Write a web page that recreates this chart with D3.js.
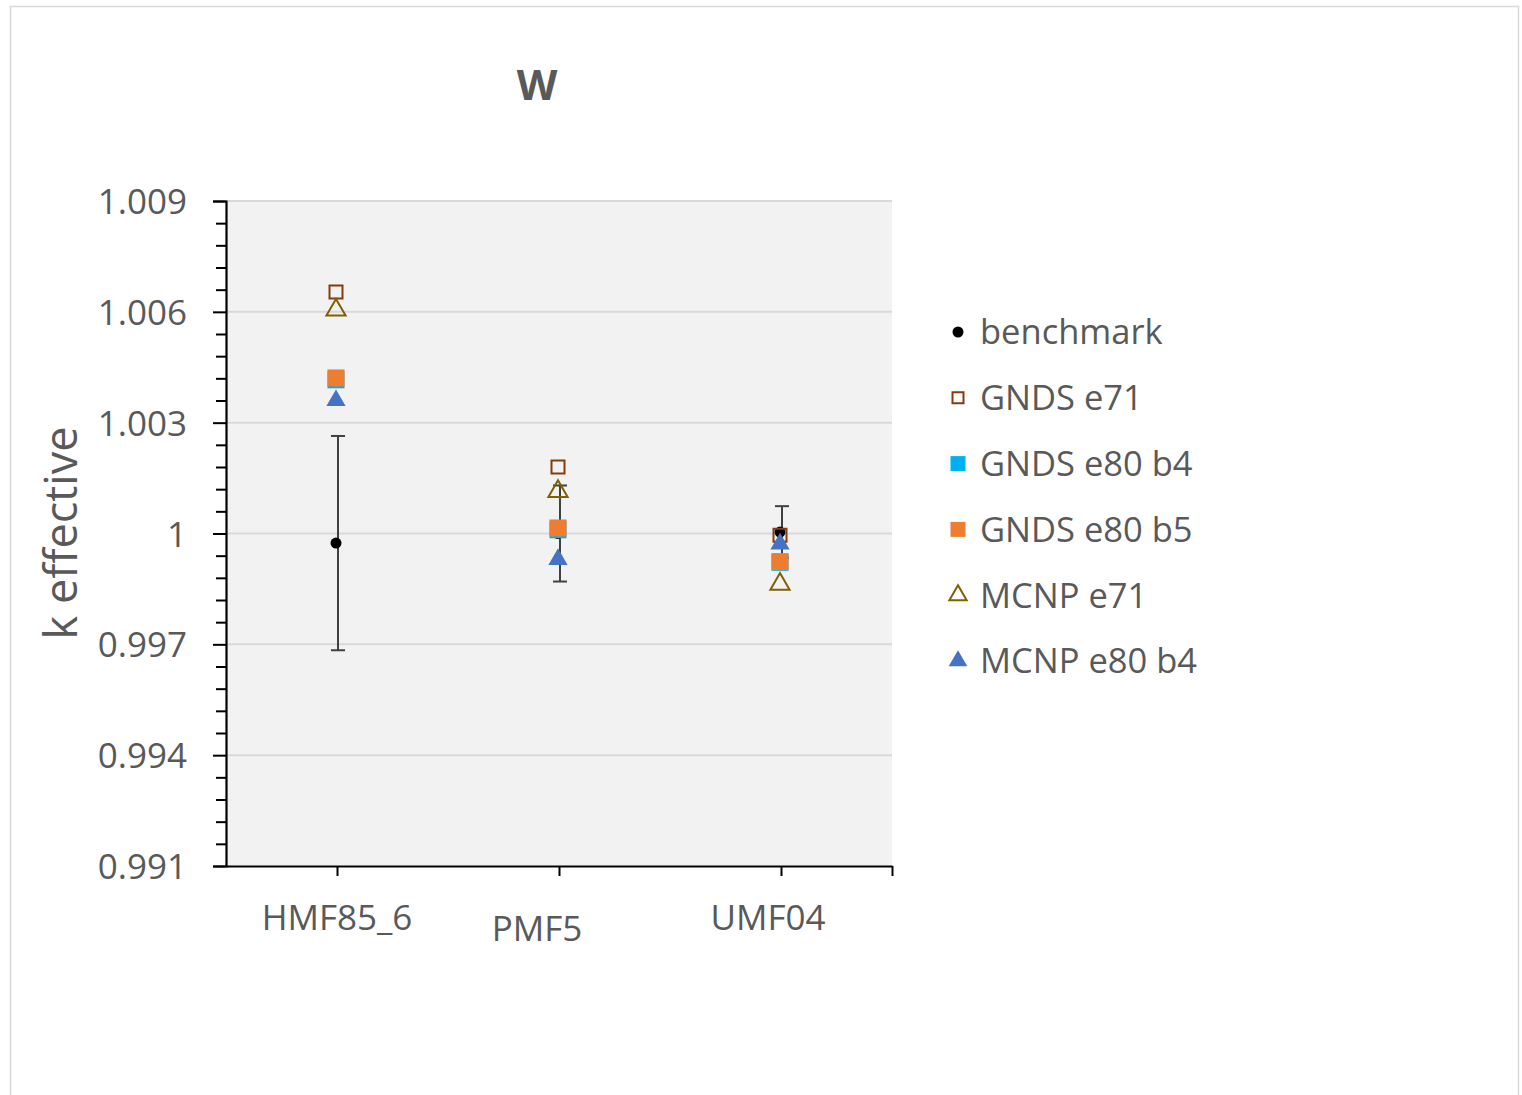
<!DOCTYPE html>
<html>
<head>
<meta charset="utf-8">
<script src="https://cdn.jsdelivr.net/npm/d3@7"></script>
<style>
  html, body { margin: 0; padding: 0; background: #fff; }
  svg { display: block; }
  text { font-family: "Open Sans", "Noto Sans", sans-serif; fill: #595959; }
</style>
</head>
<body>
<svg id="chart" width="1522" height="1095"></svg>
<script>
// Benchmark cases (x = 1, 2, 3 on the scatter axis)
const cases = ["HMF85_6", "PMF5", "UMF04"];
const caseX = [1, 2, 3];

// Benchmark k-eff and its uncertainty
const benchmark = [0.99974, 1.0000, 1.00004];
const benchmarkErr = [0.0029, 0.0013, 0.0007];

// Calculated k-eff per library
const gndsE71 = [1.00654, 1.0018, 0.99995];
const gndsE80b4 = [1.00416, 1.0001, 0.99922];
const gndsE80b5 = [1.00421, 1.00015, 0.99924];
const mcnpE71 = [1.00605, 1.00114, 0.99863];
const mcnpE80b4 = [1.0036, 0.9993, 0.99972];

const seriesNames = ["benchmark", "GNDS e71", "GNDS e80 b4", "GNDS e80 b5", "MCNP e71", "MCNP e80 b4"];
const yTickLabels = ["0.991", "0.994", "0.997", "1", "1.003", "1.006", "1.009"];
const yTickValues = [0.991, 0.994, 0.997, 1.000, 1.003, 1.006, 1.009];

const svg = d3.select("#chart");

// outer chart frame
svg.append("rect")
  .attr("x", 10.5).attr("y", 6.5).attr("width", 1508).attr("height", 1100)
  .attr("fill", "#fff").attr("stroke", "#d9d9d9").attr("stroke-width", 1.5);

const plot = { left: 226, right: 892, top: 201, bottom: 866 };
const x = d3.scaleLinear().domain([0.5, 3.5]).range([plot.left, plot.right]);
const y = d3.scaleLinear().domain([0.991, 1.009]).range([plot.bottom, plot.top]);

// plot area background
svg.append("rect")
  .attr("x", plot.left).attr("y", plot.top)
  .attr("width", plot.right - plot.left).attr("height", plot.bottom - plot.top)
  .attr("fill", "#f2f2f2");

// horizontal gridlines
svg.append("g").selectAll("line").data(yTickValues.slice(1)).join("line")
  .attr("x1", plot.left).attr("x2", plot.right)
  .attr("y1", d => y(d)).attr("y2", d => y(d))
  .attr("stroke", "#d9d9d9").attr("stroke-width", 2);

// y axis: major + minor ticks
const yMinor = d3.range(0, 31).map(i => 0.991 + i * 0.0006).filter((d, i) => i % 5 !== 0);
const yAxisMajor = d3.axisLeft(y).tickValues(yTickValues)
  .tickFormat((d, i) => yTickLabels[i]).tickSize(13).tickPadding(26);
const yAxisMinor = d3.axisLeft(y).tickValues(yMinor).tickFormat("").tickSize(10);

const gyMinor = svg.append("g").attr("transform", `translate(${plot.left},0)`).call(yAxisMinor);
gyMinor.select(".domain").remove();
gyMinor.selectAll("line").attr("stroke", "#000").attr("stroke-width", 2);

const gy = svg.append("g").attr("transform", `translate(${plot.left},0)`).call(yAxisMajor);
gy.select(".domain").attr("stroke", "#000").attr("stroke-width", 2.2);
gy.selectAll("line").attr("stroke", "#000").attr("stroke-width", 2);
gy.selectAll("text").style("font-size", "35px").attr("fill", "#595959")
  .attr("x", -39).attr("dy", "0.36em");

// x axis with ticks at the cases and at the right end
const xAxis = d3.axisBottom(x).tickValues([1, 2, 3, 3.5]).tickFormat("").tickSize(10).tickSizeOuter(0);
const gx = svg.append("g").attr("transform", `translate(0,${plot.bottom})`).call(xAxis);
gx.select(".domain").attr("stroke", "#000").attr("stroke-width", 2.2);
gx.selectAll("line").attr("stroke", "#000").attr("stroke-width", 2);

// case labels below the axis
const caseLabelPos = [{ dx: 0, y: 930 }, { dx: -22, y: 941 }, { dx: -13, y: 930 }];
svg.append("g").selectAll("text").data(cases).join("text")
  .attr("x", (d, i) => x(caseX[i]) + caseLabelPos[i].dx)
  .attr("y", (d, i) => caseLabelPos[i].y)
  .attr("text-anchor", "middle")
  .style("font-size", "35px")
  .text(d => d);

// title
svg.append("text").attr("x", 537).attr("y", 100).attr("text-anchor", "middle")
  .style("font-size", "42px").style("font-weight", "bold").text("W");

// y axis title
svg.append("text")
  .attr("transform", `translate(77,533) rotate(-90)`)
  .attr("text-anchor", "middle")
  .style("font-size", "45px")
  .text("k effective");

// marker symbols
const sqHollow = d3.symbol().type(d3.symbolSquare).size(13 * 13);
const sqFilled = d3.symbol().type(d3.symbolSquare).size(17 * 17);
const tri = d3.symbol().type(d3.symbolTriangle).size(160);
const circ = d3.symbol().type(d3.symbolCircle).size(95);

const markerStyles = [
  { path: circ, fill: "#000", stroke: "none", sw: 0 },
  { path: sqHollow, fill: "none", stroke: "#843C0C", sw: 2 },
  { path: sqFilled, fill: "#00B0F0", stroke: "none", sw: 0 },
  { path: sqFilled, fill: "#ED7D31", stroke: "none", sw: 0 },
  { path: tri, fill: "none", stroke: "#7F6000", sw: 2 },
  { path: tri, fill: "#4472C4", stroke: "none", sw: 0 }
];

// benchmark error bars
const eb = svg.append("g").attr("stroke", "#404040").attr("stroke-width", 2);
caseX.forEach((cx, i) => {
  const top = y(benchmark[i] + benchmarkErr[i]);
  const bot = y(benchmark[i] - benchmarkErr[i]);
  const px = x(cx) + 1;
  eb.append("line").attr("x1", px).attr("x2", px).attr("y1", top).attr("y2", bot);
  eb.append("line").attr("x1", px - 7).attr("x2", px + 7).attr("y1", top).attr("y2", top);
  eb.append("line").attr("x1", px - 7).attr("x2", px + 7).attr("y1", bot).attr("y2", bot);
});

const allSeries = [benchmark, gndsE71, gndsE80b4, gndsE80b5, mcnpE71, mcnpE80b4];
allSeries.forEach((vals, s) => {
  const st = markerStyles[s];
  svg.append("g").selectAll("path").data(vals).join("path")
    .attr("d", st.path)
    .attr("transform", (d, i) => `translate(${x(caseX[i]) - 1},${y(d)})`)
    .attr("fill", st.fill).attr("stroke", st.stroke).attr("stroke-width", st.sw);
});

// legend
const legendSymbols = [
  d3.symbol().type(d3.symbolCircle).size(95),
  d3.symbol().type(d3.symbolSquare).size(11 * 11),
  d3.symbol().type(d3.symbolSquare).size(15 * 15),
  d3.symbol().type(d3.symbolSquare).size(15 * 15),
  d3.symbol().type(d3.symbolTriangle).size(130),
  d3.symbol().type(d3.symbolTriangle).size(150)
];
const leg = svg.append("g");
seriesNames.forEach((name, i) => {
  const ly = 332 + i * 65.8;
  const st = markerStyles[i];
  leg.append("path").attr("d", legendSymbols[i])
    .attr("transform", `translate(958,${ly})`)
    .attr("fill", st.fill).attr("stroke", st.stroke).attr("stroke-width", st.sw);
  leg.append("text").attr("x", 980).attr("y", ly).attr("dy", "0.36em")
    .style("font-size", "34.5px").text(name);
});
</script>
</body>
</html>
